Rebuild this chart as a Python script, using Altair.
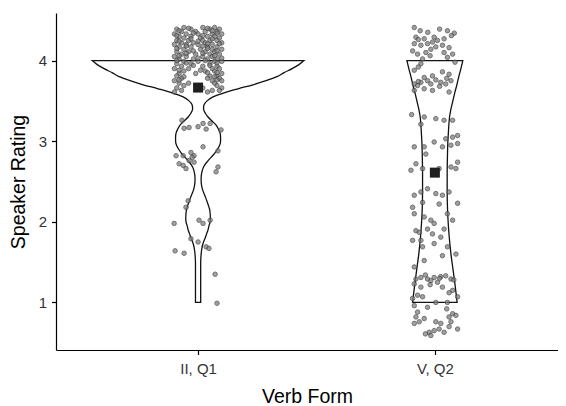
import altair as alt
import pandas as pd

groups = ["II, Q1", "V, Q2"]
positions = [1, 2]
means = [3.665, 2.61]

# violin outline: rating level and half-width (in category units)
vio_II_level = [4.00, 3.95, 3.90, 3.85, 3.80, 3.75, 3.70, 3.65, 3.60, 3.55, 3.50, 3.45, 3.40, 3.35,
                3.30, 3.25, 3.20, 3.15, 3.10, 3.05, 3.00, 2.95, 2.90, 2.85, 2.80, 2.75, 2.70, 2.65,
                2.60, 2.55, 2.50, 2.45, 2.40, 2.35, 2.30, 2.25, 2.20, 2.15, 2.10, 2.05, 2.00, 1.95,
                1.90, 1.85, 1.80, 1.75, 1.70, 1.65, 1.60, 1.50, 1.40, 1.30, 1.20, 1.10, 1.00]
vio_II_half = [0.447, 0.426, 0.397, 0.363, 0.333, 0.287, 0.232, 0.169, 0.110, 0.063, 0.038, 0.025, 0.023, 0.030,
               0.042, 0.059, 0.076, 0.086, 0.093, 0.095, 0.095, 0.091, 0.082, 0.070, 0.055, 0.040, 0.027, 0.019,
               0.015, 0.013, 0.013, 0.015, 0.019, 0.025, 0.032, 0.038, 0.044, 0.049, 0.051, 0.052, 0.051, 0.046,
               0.042, 0.036, 0.030, 0.023, 0.018, 0.015, 0.013, 0.011, 0.011, 0.011, 0.011, 0.011, 0.011]
vio_V_level = [4.00, 3.90, 3.80, 3.70, 3.60, 3.50, 3.40, 3.30, 3.20, 3.10, 3.00, 2.80, 2.60, 2.40,
               2.20, 2.00, 1.80, 1.60, 1.40, 1.20, 1.00]
vio_V_half = [0.118, 0.110, 0.101, 0.093, 0.084, 0.076, 0.068, 0.062, 0.059, 0.057, 0.055, 0.053, 0.052, 0.052,
              0.053, 0.056, 0.061, 0.068, 0.077, 0.086, 0.094]

# jittered points: rating (y) and horizontal jitter (category units)
pts_II_y = [4.41, 4.41, 4.41, 4.39, 4.39, 4.39, 4.39, 4.36, 4.36, 4.36, 4.36, 4.33, 4.33, 4.33, 4.33, 4.33,
            4.30, 4.30, 4.30, 4.30, 4.28, 4.28, 4.28, 4.25, 4.25, 4.25, 4.25, 4.25, 4.22, 4.22, 4.22, 4.22,
            4.20, 4.20, 4.20, 4.20, 4.17, 4.17, 4.17, 4.17, 4.14, 4.14, 4.14, 4.14, 4.11, 4.11, 4.11, 4.11,
            4.08, 4.08, 4.08, 4.08, 4.05, 4.05, 4.05, 4.05, 4.02, 4.02, 4.02, 4.02, 3.99, 3.99, 3.99, 3.99,
            3.96, 3.96, 3.96, 3.93, 3.93, 3.93, 3.90, 3.90, 3.90, 3.90, 3.87, 3.87, 3.87, 3.84, 3.84, 3.84,
            3.81, 3.81, 3.81, 3.78, 3.78, 3.78, 3.75, 3.75, 3.75, 3.72, 3.72, 3.72, 3.69, 3.69, 3.66, 3.66,
            3.66, 3.63, 3.63, 3.63, 3.61, 3.61,
            4.40, 4.40, 4.37, 4.37, 4.34, 4.34, 4.31, 4.31, 4.27, 4.27, 4.24, 4.24, 4.21, 4.21, 4.18, 4.18,
            4.15, 4.15, 4.12, 4.12, 4.09, 4.09, 4.06, 4.06, 4.03, 4.03, 4.00, 4.00, 3.97, 3.97, 3.94, 3.94,
            3.88, 3.88, 3.85, 3.85, 3.80, 3.80, 3.76, 3.76,
            3.26, 3.16, 3.17, 3.18, 3.22, 3.15, 3.22, 3.14, 2.93, 2.82, 2.82, 2.86, 2.82, 2.72, 2.70, 2.66,
            2.76, 2.74, 2.80, 2.68, 2.62, 2.88, 2.26, 2.18, 1.98, 2.02, 1.98, 2.02, 1.79, 1.75, 1.69, 1.67,
            1.64, 1.61, 1.35, 0.99]
pts_II_dx = [-0.06, 0.02, 0.07, -0.09, -0.03, 0.05, 0.09, -0.07, -0.01, 0.03, 0.08, -0.10, -0.05, 0.00, 0.06, 0.10,
             -0.08, -0.03, 0.04, 0.07, -0.06, 0.01, 0.09, -0.09, -0.04, 0.02, 0.05, 0.08, -0.07, -0.02, 0.03, 0.10,
             -0.10, -0.05, 0.00, 0.06, -0.08, -0.03, 0.04, 0.08, -0.06, 0.01, 0.06, 0.10, -0.09, -0.04, 0.03, 0.07,
             -0.07, -0.01, 0.05, 0.09, -0.10, -0.05, 0.02, 0.06, -0.08, -0.02, 0.04, 0.08, -0.06, 0.00, 0.07, 0.10,
             -0.09, -0.03, 0.05, -0.07, 0.02, 0.08, -0.10, -0.04, 0.06, 0.09, -0.06, 0.03, 0.07, -0.08, -0.01, 0.10,
             -0.09, 0.05, 0.08, -0.07, 0.04, 0.09, -0.10, 0.06, 0.10, -0.08, -0.04, 0.07, -0.06, 0.08, -0.09, 0.02,
             0.10, -0.07, 0.06, 0.09, -0.10, 0.04,
             -0.04, 0.04, -0.08, 0.06, -0.02, 0.08, -0.09, 0.02, -0.03, 0.06, -0.08, 0.00, 0.04, 0.09, -0.05, 0.02,
             -0.09, 0.04, -0.02, 0.08, -0.05, 0.02, -0.08, 0.07, 0.00, 0.10, -0.09, 0.03, -0.05, 0.08, -0.02, 0.05,
             -0.08, 0.01, 0.04, 0.08, -0.06, 0.07, -0.08, 0.08,
             -0.068, -0.059, -0.038, 0.000, 0.021, 0.034, 0.051, 0.097, 0.021, -0.093, -0.063, -0.030, -0.017, -0.080, -0.063, -0.051,
             -0.038, -0.017, -0.025, 0.084, 0.076, 0.084, -0.042, -0.051, -0.101, 0.004, 0.021, 0.051, -0.030, 0.000, 0.034, 0.046,
             -0.097, -0.059, 0.072, 0.080]

pts_V_y = [4.41, 4.37, 4.37, 4.34, 4.29, 4.27, 4.29, 4.27, 4.21, 4.19, 4.21, 4.23, 4.25, 4.19, 4.12, 4.08,
           4.10, 4.14, 4.17, 4.10, 4.08, 4.02, 4.04,
           3.96, 3.88, 3.79, 3.81, 3.86, 3.83, 3.71, 3.73, 3.75, 3.76, 3.73, 3.71, 3.75, 3.63, 3.65, 3.63,
           3.61, 3.69, 3.71,
           3.33, 3.30, 3.21, 3.28, 3.26, 3.26, 3.03, 3.05, 3.07, 2.93, 2.93, 2.84, 2.99, 2.93, 2.95, 2.97,
           2.72, 2.66, 2.66, 2.68, 2.66, 2.74, 2.64, 2.33, 2.37, 2.41, 2.35, 2.33, 2.37, 2.23, 2.18, 2.10,
           2.24, 2.22, 2.10, 2.06, 1.89, 1.87, 2.02, 1.98, 1.91, 1.91, 2.02, 1.77, 1.77, 1.85, 1.81, 1.69,
           1.73, 1.69, 1.52, 1.58, 1.60, 1.44,
           1.29, 1.31, 1.29, 1.31, 1.32, 1.33, 1.29, 1.23, 1.27, 1.25, 1.19, 1.19, 1.15, 1.09, 1.05, 1.07,
           1.07, 1.00, 1.00,
           0.96, 0.94, 0.88, 0.82, 0.76, 0.74, 0.86, 0.82, 0.84, 0.76, 0.76, 0.74, 0.63, 0.65, 0.67, 0.59,
           0.63, 0.67,
           4.39, 4.35, 4.31, 4.26, 4.16, 4.06, 3.98, 3.92, 3.78, 3.74, 3.68, 1.34, 1.30, 1.28, 1.22, 1.12,
           0.92, 0.80, 0.70, 0.61]
pts_V_dx = [-0.087, -0.062, 0.053, 0.082, -0.080, -0.045, -0.003, 0.039, -0.087, -0.059, -0.031, -0.010, 0.011, 0.032, -0.094, -0.073,
            -0.038, -0.017, 0.004, 0.039, 0.075, -0.052, 0.053,
            -0.059, -0.087, -0.045, -0.010, 0.032, 0.060, -0.087, -0.059, -0.031, 0.004, 0.025, 0.046, 0.068, -0.087, -0.045, -0.010,
            0.060, -0.073, -0.017,
            -0.098, -0.045, -0.059, 0.004, 0.039, 0.075, 0.046, 0.075, 0.096, -0.087, -0.045, -0.038, -0.003, 0.032, 0.068, 0.096,
            -0.080, -0.052, 0.018, 0.068, 0.089, 0.096, -0.101, -0.087, -0.059, -0.031, 0.004, 0.032, 0.060, 0.096, -0.094, -0.087,
            -0.052, 0.018, 0.053, -0.045, -0.080, -0.066, -0.017, -0.003, -0.031, 0.039, 0.075, -0.094, -0.059, -0.010, 0.025, -0.052,
            -0.003, 0.053, -0.045, 0.032, 0.089, -0.087,
            -0.080, -0.059, -0.031, -0.003, 0.025, 0.046, 0.068, -0.087, -0.017, 0.011, -0.059, 0.032, 0.075, -0.073, -0.094, -0.052,
            0.096, 0.004, 0.053,
            -0.087, -0.031, -0.073, -0.080, -0.066, -0.087, 0.075, 0.060, 0.089, 0.068, 0.004, 0.025, -0.024, -0.003, 0.018, -0.017,
            0.039, 0.096,
            0.020, -0.030, 0.070, -0.070, 0.060, -0.020, 0.085, -0.070, 0.050, -0.070, 0.020, -0.040, 0.020, 0.080, -0.020, 0.060,
            0.050, -0.045, 0.060, -0.040]

def violin_frame(pos, levels, halves):
    return pd.DataFrame({"level": levels,
                         "lo": [pos - h for h in halves],
                         "hi": [pos + h for h in halves]})

vio_II_df = violin_frame(positions[0], vio_II_level, vio_II_half)
vio_V_df = violin_frame(positions[1], vio_V_level, vio_V_half)

pt_rows = []
for g, p, ys, dxs in [(groups[0], positions[0], pts_II_y, pts_II_dx),
                      (groups[1], positions[1], pts_V_y, pts_V_dx)]:
    for y, d in zip(ys, dxs):
        pt_rows.append({"group": g, "rating": y, "xpos": p + d})
pt_df = pd.DataFrame(pt_rows)

mean_df = pd.DataFrame({"group": groups, "xpos": positions, "rating": means})

FONT = "Liberation Sans"
xscale = alt.Scale(domain=[0.4, 2.52], nice=False, zero=False)
yscale = alt.Scale(domain=[0.41, 4.59], nice=False, zero=False)

xaxis = alt.Axis(values=[1, 2], title="Verb Form", grid=False,
                 labelExpr="datum.value == 1 ? 'II, Q1' : (datum.value == 2 ? 'V, Q2' : '')",
                 tickSize=4.5, labelPadding=7, titlePadding=11,
                 labelFontSize=15, titleFontSize=19.5, labelFont=FONT, titleFont=FONT,
                 labelColor="#333333", titleColor="#000000", titleFontWeight="normal",
                 domainColor="#000000", tickColor="#000000", domainWidth=1.2, tickWidth=1.2)
yaxis = alt.Axis(values=[1, 2, 3, 4], format="d", title="Speaker Rating", grid=False,
                 tickSize=4.5, labelPadding=5, titlePadding=10,
                 labelFontSize=15, titleFontSize=19.5, labelFont=FONT, titleFont=FONT,
                 labelColor="#333333", titleColor="#000000", titleFontWeight="normal",
                 domainColor="#000000", tickColor="#000000", domainWidth=1.2, tickWidth=1.2)

def violin_layer(df):
    return alt.Chart(df).mark_area(
        orient="horizontal", interpolate="monotone", fill="white",
        stroke="#111111", strokeWidth=1.3
    ).encode(
        y=alt.Y("level:Q", scale=yscale, axis=yaxis),
        x=alt.X("lo:Q", scale=xscale, axis=xaxis),
        x2="hi:Q",
    )

violin_II = violin_layer(vio_II_df)
violin_V = violin_layer(vio_V_df)

points = alt.Chart(pt_df).mark_circle(
    size=20, fill="#808080", stroke="#444444", strokeWidth=1, opacity=0.75
).encode(
    x=alt.X("xpos:Q", scale=xscale, axis=xaxis),
    y=alt.Y("rating:Q", scale=yscale, axis=yaxis),
)

mean_pts = alt.Chart(mean_df).mark_square(size=100, color="#1f1f1f", opacity=1).encode(
    x=alt.X("xpos:Q", scale=xscale, axis=xaxis),
    y=alt.Y("rating:Q", scale=yscale, axis=yaxis),
)

chart = alt.layer(violin_II, violin_V, points, mean_pts).properties(
    width=502, height=337,
    autosize=alt.AutoSizeParams(type="none"),
    padding={"left": 48, "top": 5, "right": 0, "bottom": 56},
    background="white",
).configure_view(stroke=None)

chart.save("out.html", embed_options={"renderer": "svg", "actions": False})
